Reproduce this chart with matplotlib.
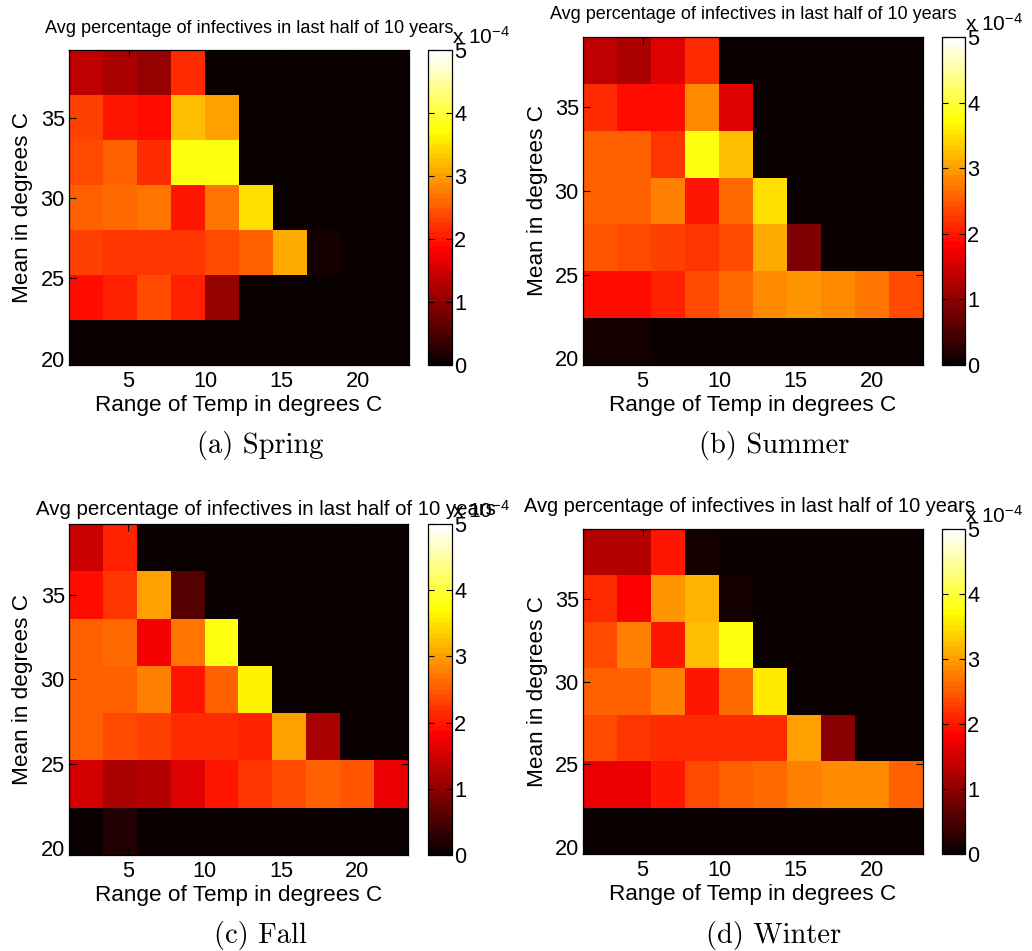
import numpy as np
import matplotlib
matplotlib.use("Agg")
import matplotlib.pyplot as plt

plt.rcParams['font.family'] = ['Liberation Sans', 'DejaVu Sans']

# ---------------- data (values in units of 1e-4) ----------------
range_vals = [2.22, 4.44, 6.67, 8.89, 11.11, 13.33, 15.56, 17.78, 20.0, 22.22]
mean_vals = [21.0, 23.8, 26.6, 29.4, 32.2, 35.0, 37.8]
scale = 1e-4

# rows listed from the lowest mean (21.0) to the highest (37.8)
spring = [
    [0.0, 0.0, 0.0, 0.0, 0.0, 0.0, 0.0, 0.0, 0.0, 0.0],
    [1.94, 2.09, 2.39, 2.05, 1.04, 0.0, 0.0, 0.0, 0.0, 0.0],
    [2.31, 2.24, 2.24, 2.24, 2.35, 2.50, 3.06, 0.15, 0.0, 0.0],
    [2.57, 2.65, 2.72, 1.97, 2.68, 3.47, 0.0, 0.0, 0.0, 0.0],
    [2.39, 2.57, 2.12, 3.80, 3.80, 0.0, 0.0, 0.0, 0.0, 0.0],
    [2.27, 1.97, 1.94, 3.28, 3.02, 0.0, 0.0, 0.0, 0.0, 0.0],
    [1.34, 1.19, 1.04, 2.12, 0.0, 0.0, 0.0, 0.0, 0.0, 0.0],
]
summer = [
    [0.10, 0.10, 0.0, 0.0, 0.0, 0.0, 0.0, 0.0, 0.0, 0.0],
    [1.94, 1.94, 2.05, 2.42, 2.65, 2.83, 2.95, 2.87, 2.72, 2.39],
    [2.46, 2.39, 2.27, 2.20, 2.42, 3.10, 0.86, 0.0, 0.0, 0.0],
    [2.57, 2.57, 2.80, 1.97, 2.65, 3.47, 0.0, 0.0, 0.0, 0.0],
    [2.53, 2.57, 2.20, 3.80, 3.28, 0.0, 0.0, 0.0, 0.0, 0.0],
    [2.16, 1.90, 1.90, 2.87, 1.64, 0.0, 0.0, 0.0, 0.0, 0.0],
    [1.34, 1.23, 1.58, 2.16, 0.0, 0.0, 0.0, 0.0, 0.0, 0.0],
]
fall = [
    [0.04, 0.18, 0.0, 0.0, 0.0, 0.0, 0.0, 0.0, 0.0, 0.0],
    [1.52, 1.19, 1.30, 1.58, 1.97, 2.20, 2.42, 2.50, 2.46, 1.70],
    [2.50, 2.35, 2.27, 2.16, 2.16, 2.05, 2.98, 1.19, 0.0, 0.0],
    [2.57, 2.57, 2.76, 1.97, 2.57, 3.66, 0.0, 0.0, 0.0, 0.0],
    [2.50, 2.65, 1.75, 2.72, 3.75, 0.0, 0.0, 0.0, 0.0, 0.0],
    [1.94, 2.20, 2.98, 0.57, 0.0, 0.0, 0.0, 0.0, 0.0, 0.0],
    [1.43, 2.05, 0.0, 0.0, 0.0, 0.0, 0.0, 0.0, 0.0, 0.0],
]
winter = [
    [0.07, 0.0, 0.0, 0.0, 0.0, 0.0, 0.0, 0.0, 0.0, 0.0],
    [1.70, 1.70, 2.01, 2.35, 2.53, 2.61, 2.76, 2.87, 2.87, 2.50],
    [2.35, 2.24, 2.16, 2.12, 2.12, 2.12, 3.02, 1.00, 0.0, 0.0],
    [2.57, 2.57, 2.76, 1.97, 2.61, 3.54, 0.0, 0.0, 0.0, 0.0],
    [2.42, 2.76, 2.01, 3.21, 3.78, 0.0, 0.0, 0.0, 0.0, 0.0],
    [2.12, 1.85, 2.90, 3.13, 0.09, 0.0, 0.0, 0.0, 0.0, 0.0],
    [1.30, 1.30, 1.97, 0.09, 0.0, 0.0, 0.0, 0.0, 0.0, 0.0],
]

titles = ["Avg percentage of infectives in last half of 10 years"] * 4
captions = ["(a) Spring", "(b) Summer", "(c) Fall", "(d) Winter"]
x_ticks = [5, 10, 15, 20]
y_ticks = [20, 25, 30, 35]
cbar_ticks = [0, 1, 2, 3, 4, 5]
xlabel = "Range of Temp in degrees C"
ylabel = "Mean in degrees C"

# ---------------- layout (pixels) ----------------
W, H = 1032, 951
layout = [
    dict(ax=(69, 50, 409, 365), cb=(428, 50, 452, 365), title=(249, 33), tfs=13.1, cap=(260, 446)),
    dict(ax=(583, 37, 923, 365), cb=(942, 37, 965, 365), title=(753, 19), tfs=13.0, cap=(774, 446)),
    dict(ax=(69, 524, 408, 855), cb=(428, 524, 452, 855), title=(266, 515), tfs=14.7, cap=(260, 935)),
    dict(ax=(583, 529, 923, 854), cb=(942, 529, 965, 854), title=(749, 512), tfs=14.45, cap=(774, 936)),
]


def rect(l, t, r, b):
    return [l / W, 1 - b / H, (r - l) / W, (b - t) / H]


fig = plt.figure(figsize=(W / 100, H / 100), dpi=100)
cmap = matplotlib.colormaps['hot'].resampled(64)
tick_fs = 15.7
label_fs = 16.2

for data, title, cap, lay in zip([spring, summer, fall, winter], titles, captions, layout):
    ax = fig.add_axes(rect(*lay['ax']))
    cax = fig.add_axes(rect(*lay['cb']))
    Z = np.array(data) * scale
    mesh = ax.pcolormesh(range_vals, mean_vals, Z, shading='nearest', cmap=cmap,
                         vmin=0, vmax=5 * scale)
    ax.set_ylim(19.6, 39.2)
    ax.set_xticks(x_ticks)
    ax.set_yticks(y_ticks)
    ax.tick_params(direction='in', top=True, right=True, length=5, width=0.8,
                   labelsize=tick_fs)
    ax.tick_params(axis='x', pad=4.5)
    ax.tick_params(axis='y', pad=3)
    for s in ax.spines.values():
        s.set_linewidth(0.9)
    axl, axt, axr, axb = lay['ax']
    axw, axh = axr - axl, axb - axt
    ax.set_xlabel(xlabel, fontsize=label_fs)
    ax.xaxis.label.set_va('baseline')
    ax.xaxis.set_label_coords(0.5, -46 / axh)
    ax.set_ylabel(ylabel, fontsize=label_fs)
    ax.yaxis.label.set_va('center')
    ax.yaxis.set_label_coords(-46 / axw, 0.5)

    tx, ty = lay['title']
    fig.text(tx / W, 1 - ty / H, title, fontsize=lay['tfs'], ha='center', va='baseline')

    cb = fig.colorbar(mesh, cax=cax, ticks=[v * scale for v in cbar_ticks])
    cb.ax.set_yticklabels([str(v) for v in cbar_ticks])
    cb.ax.tick_params(direction='in', left=True, right=True, length=4, width=0.8,
                      labelsize=tick_fs, pad=1.5)
    cb.outline.set_linewidth(0.9)
    cbh = lay['cb'][3] - lay['cb'][1]
    cb.ax.text(1.02, 1 + 6 / cbh, r'x $\mathregular{10^{-4}}$', transform=cb.ax.transAxes,
               fontsize=15, ha='left', va='baseline')

    cx, cy = lay['cap']
    fig.text(cx / W, 1 - cy / H, cap, fontsize=20.5, family='cmr10', ha='center', va='center')

fig.savefig('out.png', dpi=100)
